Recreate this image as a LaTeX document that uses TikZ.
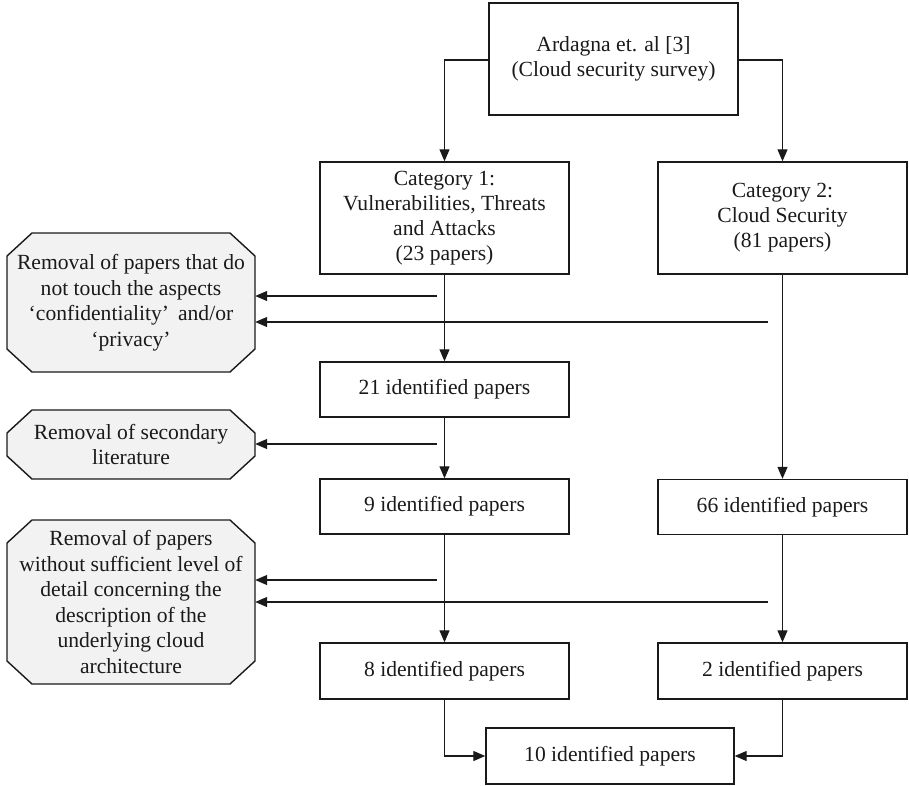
\documentclass[tikz,border=0pt]{standalone}
\usepackage{fontspec}
\setmainfont{Liberation Serif}
\usetikzlibrary{arrows.meta,calc}
\definecolor{octgray}{HTML}{F2F2F2}
\definecolor{ink}{HTML}{1A1A1A}
\tikzset{
  box/.style={draw=ink, line width=1.4pt, rectangle, align=center, inner sep=0pt,
    minimum width=249pt, font=\fontsize{21.6}{25}\selectfont, text=ink},
  octtext/.style={draw=none, rectangle, align=center, inner sep=0pt,
    font=\fontsize{21.6}{25.5}\selectfont, text=ink},
  octline/.style={draw=ink, fill=octgray, line width=1.4pt, line join=miter},
  arr/.style={draw=ink, line width=1.2pt, -{Triangle[length=12pt,width=10pt]}},
}
\newcommand{\octbox}[6]{%
  \path[octline] ({#2-#4+25},{#3-#5}) -- ({#2+#4-25},{#3-#5}) -- ({#2+#4},{#3-#5+23})
    -- ({#2+#4},{#3+#5-23}) -- ({#2+#4-25},{#3+#5}) -- ({#2-#4+25},{#3+#5})
    -- ({#2-#4},{#3+#5-23}) -- ({#2-#4},{#3-#5+23}) -- cycle;
  \node[octtext, minimum width={2*#4pt}, minimum height={2*#5pt}] (#1) at (#2,#3) {#6};
}
\begin{document}
\begin{tikzpicture}[x=1pt, y=-1pt]
\useasboundingbox (0,0) rectangle (909,785);

% main boxes
\node[box, minimum height=112pt] (top) at (613.5,59) {Ardagna et. al [3]\\(Cloud security survey)};
\node[box, minimum height=112pt] (cat1) at (444.5,218) {Category 1:\\Vulnerabilities, Threats\\and Attacks\\(23 papers)};
\node[box, minimum height=112pt] (cat2) at (782.5,218) {Category 2:\\Cloud Security\\(81 papers)};
\node[box, minimum height=55pt] (b21) at (444.5,389.5) {21 identified papers};
\node[box, minimum height=55pt] (b9) at (444.5,506.5) {9 identified papers};
\node[box, minimum height=55pt] (b66) at (782.5,507) {66 identified papers};
\node[box, minimum height=56pt] (b8) at (444.5,671) {8 identified papers};
\node[box, minimum height=56pt] (b2) at (782.5,671) {2 identified papers};
\node[box, minimum height=56pt, minimum width=248pt] (b10) at (610,756) {10 identified papers};

% octagons
\octbox{o1}{131}{302.5}{124}{69.5}{Removal of papers that do\\not touch the aspects\\`confidentiality'\, and/or\\`privacy'}
\octbox{o2}{131}{444.5}{124}{34.5}{Removal of secondary\\literature}
\octbox{o3}{131}{602}{124}{82}{Removal of papers\\without sufficient level of\\detail concerning the\\description of the\\underlying cloud\\architecture}

% free ends of the removal arrows
\coordinate (c1) at (437,296);
\coordinate (c2) at (768,322);
\coordinate (c3) at (437,444);
\coordinate (c4) at (437,580);
\coordinate (c5) at (768,602);

% connectors
\draw[arr] (top.west |- 0,60) -| (cat1.north);
\draw[arr] (top.east |- 0,60) -| (cat2.north);
\draw[arr] (cat1.south) -- (b21.north);
\draw[arr] (b21.south) -- (b9.north);
\draw[arr] (b9.south) -- (b8.north);
\draw[arr] (cat2.south) -- (b66.north);
\draw[arr] (b66.south) -- (b2.north);
\draw[arr] (b8.south) |- (b10.west);
\draw[arr] (b2.south) |- (b10.east);

\draw[arr] (c1) -- (c1 -| o1.east);
\draw[arr] (c2) -- (c2 -| o1.east);
\draw[arr] (c3) -- (c3 -| o2.east);
\draw[arr] (c4) -- (c4 -| o3.east);
\draw[arr] (c5) -- (c5 -| o3.east);
\end{tikzpicture}
\end{document}
